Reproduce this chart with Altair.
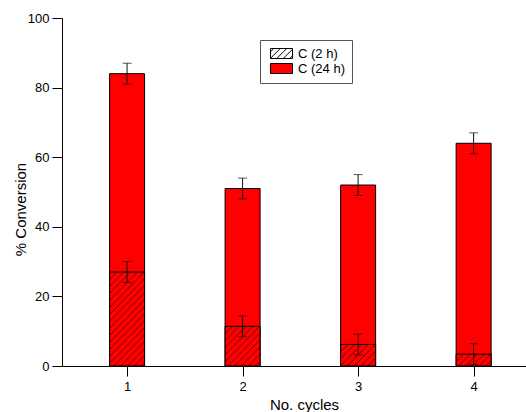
import altair as alt
import pandas as pd
import numpy as np

# ---- data ----
cycles = [1, 2, 3, 4]
conv_24h = [84, 51, 52, 64]
err_24h = [3, 3, 3, 3]
conv_2h = [27, 11.4, 6.2, 3.4]
err_2h = [3, 3, 3, 3]
series = ["C (2 h)", "C (24 h)"]

# ---- styling / layout constants ----
FONT = "Liberation Sans"
W, H = 464, 348
XMIN, XMAX = 0.48, 4.41
BAR_PX = 35
HATCH_STEP = 7.0
PX_X = W / (XMAX - XMIN)
PX_Y = H / 100.0

bars = pd.DataFrame({"cycle": cycles, "c24": conv_24h, "c2": conv_2h,
                     "lo24": [v - e for v, e in zip(conv_24h, err_24h)],
                     "hi24": [v + e for v, e in zip(conv_24h, err_24h)],
                     "lo2": [v - e for v, e in zip(conv_2h, err_2h)],
                     "hi2": [v + e for v, e in zip(conv_2h, err_2h)]})

# hatch segments ("/") clipped to the 2 h part of each bar, derived from the data
segs = []
half = BAR_PX / 2.0
for cx, val in zip(cycles, conv_2h):
    h = val * PX_Y
    c = -half - h
    while c <= half:
        u0 = max(-half, c)
        u1 = min(half, c + h)
        if u1 > u0:
            segs.append({"x": cx + u0 / PX_X, "y": (u0 - c) / PX_Y,
                         "x2": cx + u1 / PX_X, "y2": (u1 - c) / PX_Y})
        c += HATCH_STEP
hatch = pd.DataFrame(segs)

# legend symbol paths: nominal symbol 12 px (scale 6 px per unit), drawn 22 x 10 px
SYM = 12.0
unit = SYM / 2.0
hw = 11.0 / unit
hh = 5.0 / unit
rect_path = f"M{-hw:.4f},{-hh:.4f}H{hw:.4f}V{hh:.4f}H{-hw:.4f}Z"
hatch_path = rect_path
step = 6.5 / unit
a = -hw - 2 * hh + step / 2
while a < hw:
    t0 = max(0.0, -hw - a)
    t1 = min(2 * hh, hw - a)
    if t1 > t0:
        hatch_path += f"M{a + t0:.4f},{hh - t0:.4f}L{a + t1:.4f},{hh - t1:.4f}"
    a += step

# legend-only points, placed below the visible y range and clipped away
legend_df = pd.DataFrame({"series": series, "cycle": [cycles[0]] * 2, "v": [-50, -50]})

xscale = alt.Scale(domain=[XMIN, XMAX], nice=False, zero=False)
yscale = alt.Scale(domain=[0, 100], nice=False)

xaxis = alt.Axis(values=cycles, format="d", title="No. cycles", tickSize=10,
                 labelPadding=4, grid=False, titleX=242, titleY=43.5,
                 labelFont=FONT, titleFont=FONT, labelFontSize=13, titleFontSize=15,
                 titleBaseline="alphabetic", titleFontWeight="normal")
yaxis = alt.Axis(values=list(range(0, 101, 10)), title="% Conversion", grid=False,
                 labelExpr="datum.value % 20 == 0 ? datum.label : ''",
                 tickSize={"condition": {"test": "datum.value % 20 != 0", "value": 5}, "value": 10},
                 labelFont=FONT, titleFont=FONT, labelFontSize=13, titleFontSize=15,
                 labelPadding=3, titleX=-37, titleY=191, titleAngle=270,
                 titleBaseline="alphabetic", titleAlign="center", titleFontWeight="normal")

base = alt.Chart(bars)

full = base.mark_bar(size=BAR_PX, color="#ff0000", stroke="black", strokeWidth=1).encode(
    x=alt.X("cycle:Q", scale=xscale, axis=xaxis),
    y=alt.Y("c24:Q", scale=yscale, axis=yaxis),
)
lower = base.mark_bar(size=BAR_PX, color="#ff0000", stroke="black", strokeWidth=1).encode(
    x=alt.X("cycle:Q", scale=xscale),
    y=alt.Y("c2:Q", scale=yscale),
)
hatch_layer = alt.Chart(hatch).mark_rule(color="#200000", strokeWidth=0.8, opacity=0.8).encode(
    x=alt.X("x:Q", scale=xscale), y=alt.Y("y:Q", scale=yscale),
    x2="x2:Q", y2="y2:Q",
)
err_color = "#111111"
err_rules = []
caps = []
for lo, hi in [("lo24", "hi24"), ("lo2", "hi2")]:
    err_rules.append(base.mark_rule(color=err_color, strokeWidth=1).encode(
        x=alt.X("cycle:Q", scale=xscale), y=alt.Y(f"{lo}:Q", scale=yscale), y2=f"{hi}:Q"))
    for f in (lo, hi):
        caps.append(base.mark_tick(orient="horizontal", size=9, thickness=1, color=err_color).encode(
            x=alt.X("cycle:Q", scale=xscale), y=alt.Y(f"{f}:Q", scale=yscale)))

legend_layer = alt.Chart(legend_df).mark_point(
    filled=True, clip=True, opacity=1, stroke="black", strokeWidth=1
).encode(
    x=alt.X("cycle:Q", scale=xscale),
    y=alt.Y("v:Q", scale=yscale),
    fill=alt.Fill("series:N", scale=alt.Scale(domain=series, range=["white", "#ff0000"]),
                  legend=alt.Legend(title=None, orient="none", legendX=198, legendY=22,
                                    padding=7, symbolOffset=8, rowPadding=0,
                                    symbolSize=SYM * SYM, symbolStrokeColor="black",
                                    symbolStrokeWidth=1, symbolOpacity=1,
                                    labelFontSize=13, labelFont=FONT, labelOffset=10,
                                    labelColor="black",
                                    strokeColor="#555555", fillColor="white")),
    shape=alt.Shape("series:N", scale=alt.Scale(domain=series, range=[hatch_path, rect_path])),
)

chart = alt.layer(full, lower, hatch_layer, *err_rules, *caps, legend_layer).properties(
    width=W, height=H,
    background="white",
    autosize=alt.AutoSizeParams(type="none"),
    padding={"left": 62, "top": 18, "right": 0, "bottom": 46},
).configure_view(stroke=None).configure_axis(
    domainColor="black", tickColor="black", labelColor="black", titleColor="black",
    domainWidth=1, tickWidth=1,
)

chart.save("out.html", embed_options={"renderer": "svg", "actions": False})
